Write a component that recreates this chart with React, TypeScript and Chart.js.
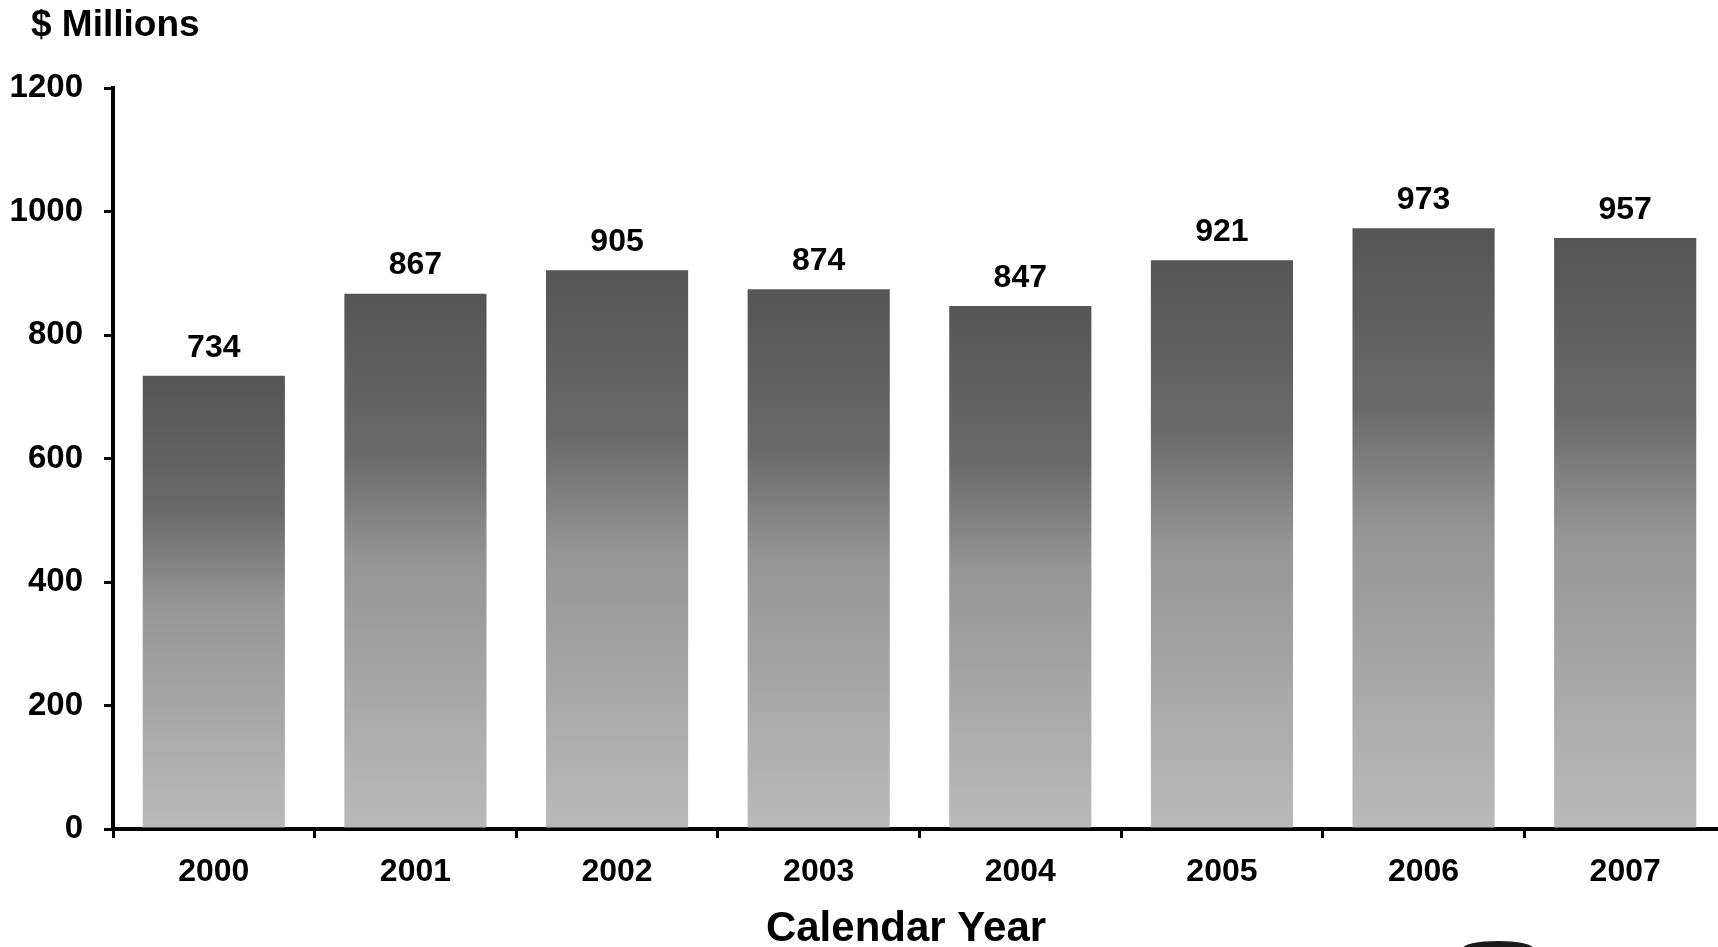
import React, { useEffect, useRef } from "react";
import { Chart, registerables } from "chart.js";

Chart.register(...registerables);

// Annual totals, in millions of dollars
const years = ["2000", "2001", "2002", "2003", "2004", "2005", "2006", "2007"];
const totals = [734, 867, 905, 874, 847, 921, 973, 957];
const yMin = 0;
const yMax = 1200;
const yStep = 200;
const unitLabel = "$ Millions";
const xTitle = "Calendar Year";

const FONT = "'Liberation Sans', Arial, Helvetica, sans-serif";

// Per-bar vertical gradient: dark at the top of each bar, lighter toward the base
function barFill(ctx: any) {
  const chart = ctx.chart;
  const yScale = chart.scales?.y;
  if (!chart.chartArea || !yScale) return "#8a8a8a";
  const v = ctx.raw as number;
  const top = yScale.getPixelForValue(v);
  const base = yScale.getPixelForValue(0);
  const g = chart.ctx.createLinearGradient(0, top, 0, base);
  g.addColorStop(0, "#555555");
  g.addColorStop(0.3, "#6a6a6a");
  g.addColorStop(0.5, "#959595");
  g.addColorStop(1, "#bababa");
  return g;
}

const valueLabels = {
  id: "valueLabels",
  afterDatasetsDraw(chart: any) {
    const { ctx } = chart;
    const meta = chart.getDatasetMeta(0);
    ctx.save();
    ctx.fillStyle = "#000";
    ctx.font = `bold 32px ${FONT}`;
    ctx.textAlign = "center";
    ctx.textBaseline = "middle";
    meta.data.forEach((bar: any, i: number) => {
      ctx.fillText(String(totals[i]), bar.x, bar.y - 28);
    });
    ctx.restore();
  },
};

// Unit caption above the value axis and the category axis title
const axisCaptions = {
  id: "axisCaptions",
  afterDraw(chart: any) {
    const { ctx } = chart;
    ctx.save();
    ctx.fillStyle = "#000";
    ctx.textBaseline = "middle";
    ctx.font = `bold 37px ${FONT}`;
    ctx.textAlign = "left";
    ctx.fillText(unitLabel, 31, 26);
    ctx.font = `bold 42px ${FONT}`;
    ctx.textAlign = "center";
    ctx.fillText(xTitle, 906, 929);
    ctx.restore();
  },
};

export default function App() {
  const canvasRef = useRef<HTMLCanvasElement | null>(null);

  useEffect(() => {
    const canvas = canvasRef.current;
    if (!canvas) return;
    const chart = new Chart(canvas, {
      type: "bar",
      data: {
        labels: years,
        datasets: [
          {
            data: totals,
            backgroundColor: barFill as any,
            borderWidth: 0,
            barPercentage: 0.705,
            categoryPercentage: 1,
          },
        ],
      },
      options: {
        animation: false,
        responsive: false,
        devicePixelRatio: 1,
        layout: { padding: { top: 88, left: 0, right: 0, bottom: 0 } },
        plugins: {
          legend: { display: false },
          tooltip: { enabled: false },
          title: { display: false },
        },
        scales: {
          x: {
            offset: true,
            grid: {
              offset: true,
              drawOnChartArea: false,
              color: "#000",
              lineWidth: 3,
              tickLength: 9,
            },
            border: { display: true, color: "#000", width: 4 },
            ticks: {
              color: "#000",
              font: { family: FONT, size: 32, weight: "bold" },
              padding: 15,
              maxRotation: 0,
            },
            afterFit(scale: any) {
              scale.height = 118;
            },
          },
          y: {
            min: yMin,
            max: yMax,
            grid: {
              drawOnChartArea: false,
              color: "#000",
              lineWidth: 3,
              tickLength: 9,
            },
            border: { display: true, color: "#000", width: 4 },
            ticks: {
              stepSize: yStep,
              color: "#000",
              font: { family: FONT, size: 33, weight: "bold" },
              padding: 21,
              callback: (value: any) => String(value),
            },
            afterFit(scale: any) {
              scale.width = 113;
            },
          },
        },
      },
      plugins: [valueLabels, axisCaptions],
    });
    return () => chart.destroy();
  }, []);

  return (
    <div
      style={{
        position: "absolute",
        left: 0,
        top: 0,
        width: 1718,
        height: 947,
        overflow: "hidden",
        background: "#fff",
      }}
    >
      <canvas ref={canvasRef} width={1726} height={947} style={{ display: "block" }} />
      <div
        style={{
          position: "absolute",
          left: 1462,
          top: 941,
          width: 72,
          height: 16,
          borderRadius: "50%",
          background: "#1a1a1a",
        }}
      />
    </div>
  );
}
